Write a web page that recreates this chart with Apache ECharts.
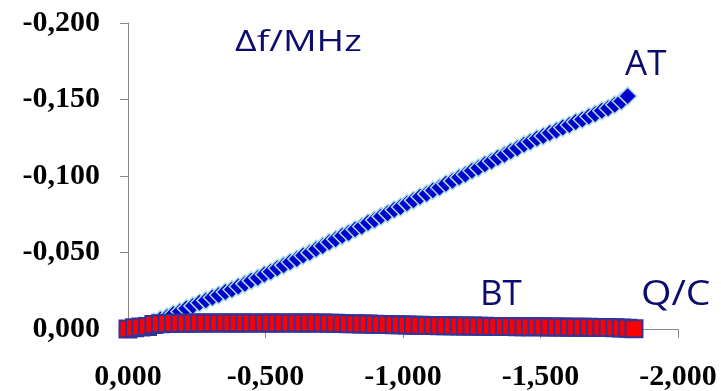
<!DOCTYPE html>
<html>
<head>
<meta charset="utf-8">
<script src="https://cdn.jsdelivr.net/npm/echarts@6/dist/echarts.min.js"></script>
<style>
  html, body { margin: 0; padding: 0; background: #fff; }
  #chart { width: 721px; height: 391px; }
</style>
</head>
<body>
<div id="chart"></div>
<script>
// Charge Q/C (x) and frequency shift Δf/MHz (y) for the AT and BT cuts
const qAT = [
  0.000, -0.024, -0.047, -0.071, -0.094, -0.118, -0.142, -0.165, -0.189, -0.212,
  -0.236, -0.260, -0.283, -0.307, -0.330, -0.354, -0.378, -0.401, -0.425, -0.448,
  -0.472, -0.496, -0.519, -0.543, -0.566, -0.590, -0.614, -0.637, -0.661, -0.684,
  -0.708, -0.732, -0.755, -0.779, -0.802, -0.826, -0.850, -0.873, -0.897, -0.920,
  -0.944, -0.968, -0.991, -1.015, -1.038, -1.062, -1.086, -1.109, -1.133, -1.156,
  -1.180, -1.204, -1.227, -1.251, -1.274, -1.298, -1.322, -1.345, -1.369, -1.392,
  -1.416, -1.440, -1.463, -1.487, -1.510, -1.534, -1.558, -1.581, -1.605, -1.628,
  -1.652, -1.676, -1.699, -1.723, -1.746, -1.770, -1.794, -1.817
];
const dfAT = [
  0.0000, -0.0008, -0.0019, -0.0031, -0.0046, -0.0063, -0.0079, -0.0098, -0.0114, -0.0134,
  -0.0151, -0.0171, -0.0187, -0.0206, -0.0222, -0.0242, -0.0258, -0.0278, -0.0295, -0.0316,
  -0.0334, -0.0356, -0.0374, -0.0397, -0.0416, -0.0438, -0.0457, -0.0480, -0.0499, -0.0522,
  -0.0543, -0.0567, -0.0586, -0.0609, -0.0628, -0.0651, -0.0670, -0.0694, -0.0713, -0.0736,
  -0.0756, -0.0779, -0.0798, -0.0821, -0.0841, -0.0864, -0.0883, -0.0906, -0.0925, -0.0949,
  -0.0968, -0.0991, -0.1010, -0.1034, -0.1053, -0.1077, -0.1096, -0.1119, -0.1139, -0.1162,
  -0.1181, -0.1205, -0.1224, -0.1245, -0.1261, -0.1281, -0.1297, -0.1317, -0.1333, -0.1353,
  -0.1369, -0.1389, -0.1405, -0.1426, -0.1443, -0.1466, -0.1489, -0.1522
];
const qBT = [
  0.000, -0.024, -0.047, -0.071, -0.094, -0.118, -0.142, -0.165, -0.189, -0.212,
  -0.236, -0.260, -0.283, -0.307, -0.330, -0.354, -0.378, -0.401, -0.425, -0.448,
  -0.472, -0.496, -0.519, -0.543, -0.566, -0.590, -0.614, -0.637, -0.661, -0.684,
  -0.708, -0.732, -0.755, -0.779, -0.802, -0.826, -0.850, -0.873, -0.897, -0.920,
  -0.944, -0.968, -0.991, -1.015, -1.038, -1.062, -1.086, -1.109, -1.133, -1.156,
  -1.180, -1.204, -1.227, -1.251, -1.274, -1.298, -1.322, -1.345, -1.369, -1.392,
  -1.416, -1.440, -1.463, -1.487, -1.510, -1.534, -1.558, -1.581, -1.605, -1.628,
  -1.652, -1.676, -1.699, -1.723, -1.746, -1.770, -1.794, -1.817, -1.840
];
const dfBT = [
  0.0000, -0.0008, -0.0013, -0.0017, -0.0030, -0.0035, -0.0036, -0.0037, -0.0038, -0.0038,
  -0.0039, -0.0039, -0.0039, -0.0040, -0.0039, -0.0040, -0.0040, -0.0039, -0.0040, -0.0040,
  -0.0040, -0.0039, -0.0040, -0.0039, -0.0039, -0.0040, -0.0039, -0.0039, -0.0039, -0.0039,
  -0.0039, -0.0038, -0.0037, -0.0036, -0.0035, -0.0034, -0.0033, -0.0032, -0.0031, -0.0030,
  -0.0029, -0.0028, -0.0027, -0.0026, -0.0025, -0.0024, -0.0023, -0.0023, -0.0022, -0.0021,
  -0.0021, -0.0020, -0.0020, -0.0019, -0.0018, -0.0018, -0.0017, -0.0017, -0.0016, -0.0016,
  -0.0015, -0.0015, -0.0014, -0.0014, -0.0014, -0.0013, -0.0013, -0.0013, -0.0012, -0.0012,
  -0.0011, -0.0011, -0.0010, -0.0009, -0.0009, -0.0008, -0.0007, -0.0005, -0.0002
];
const xTicks = { min: -2, max: 0, step: 0.5 };
const yTicks = { min: -0.2, max: 0, step: 0.05 };

const pairs = (xs, ys) => xs.map((x, i) => [x, ys[i]]);
const fmt = v => (Math.abs(v) < 1e-9 ? 0 : v).toFixed(3).replace('.', ',');

const navy = '#0c0c6e';
const axisGrey = '#8a8a8a';
const labelFont = {
  fontFamily: 'Liberation Serif',
  fontWeight: 'bold',
  fontSize: 30,
  color: '#000'
};
const noteText = (text, x, y, size, sx) => ({
  type: 'text', x: x, y: y, scaleX: sx, originX: 0, originY: 0,
  style: { text: text, fontFamily: 'Open Sans', fontSize: size, fill: navy,
           align: 'left', verticalAlign: 'middle' }
});

const chart = echarts.init(document.getElementById('chart'), null, { renderer: 'canvas' });
chart.setOption({
  animation: false,
  backgroundColor: '#fff',
  grid: { left: 128, right: 43, top: 23, bottom: 62, outerBoundsMode: 'none' },
  xAxis: {
    type: 'value',
    inverse: true,
    min: xTicks.min, max: xTicks.max, interval: xTicks.step,
    axisLine: { show: true, lineStyle: { color: axisGrey, width: 1 } },
    axisTick: { show: true, length: 9, lineStyle: { color: axisGrey } },
    splitLine: { show: false },
    axisLabel: Object.assign({ margin: 33, formatter: fmt }, labelFont)
  },
  yAxis: {
    type: 'value',
    inverse: true,
    min: yTicks.min, max: yTicks.max, interval: yTicks.step,
    axisLine: { show: true, lineStyle: { color: axisGrey, width: 1 } },
    axisTick: { show: true, length: 8, lineStyle: { color: axisGrey } },
    splitLine: { show: false },
    axisLabel: Object.assign({ margin: 28, formatter: fmt }, labelFont)
  },
  series: [
    {
      name: 'AT',
      type: 'scatter',
      symbol: 'diamond',
      symbolSize: 18,
      itemStyle: { color: '#0000cc', borderColor: '#a9dbe3', borderWidth: 1.5, opacity: 1 },
      emphasis: { disabled: true },
      data: pairs(qAT, dfAT)
    },
    {
      name: 'BT',
      type: 'scatter',
      symbol: 'rect',
      symbolSize: 17,
      itemStyle: { color: '#ff0000', borderColor: '#33339a', borderWidth: 2, opacity: 1 },
      emphasis: { disabled: true },
      data: pairs(qBT, dfBT)
    }
  ],
  graphic: [
    noteText('Δf/MHz', 235, 43, 29, 1.29),
    noteText('AT', 625, 65.5, 35, 1),
    noteText('BT', 480, 295, 35, 1),
    noteText('Q/C', 641, 295, 35, 1.12)
  ]
});
</script>
</body>
</html>
